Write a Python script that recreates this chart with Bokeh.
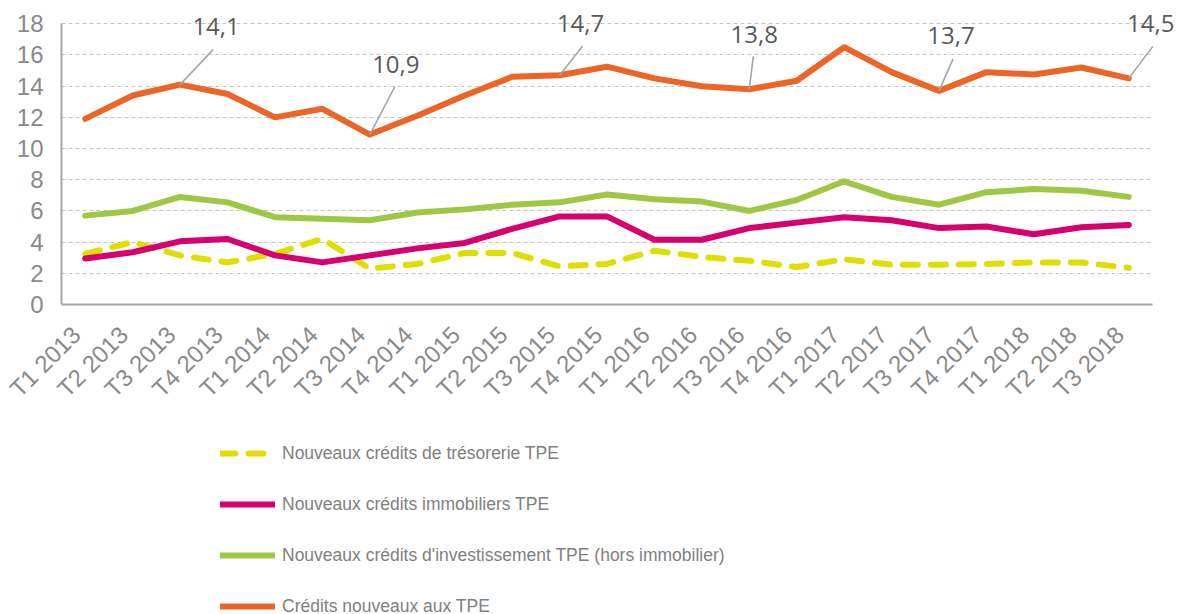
from bokeh.plotting import figure
from bokeh.models import ColumnDataSource, Range1d, Legend, LegendItem, FixedTicker, Grid
from bokeh.embed import file_html
from bokeh.resources import INLINE
from bokeh.core.properties import value
import math

# ---------------- data ----------------
quarters = ["T1 2013", "T2 2013", "T3 2013", "T4 2013",
            "T1 2014", "T2 2014", "T3 2014", "T4 2014",
            "T1 2015", "T2 2015", "T3 2015", "T4 2015",
            "T1 2016", "T2 2016", "T3 2016", "T4 2016",
            "T1 2017", "T2 2017", "T3 2017", "T4 2017",
            "T1 2018", "T2 2018", "T3 2018"]

tresorerie = [3.25, 4.0, 3.15, 2.7, 3.25, 4.2, 2.3, 2.6, 3.3, 3.3, 2.45, 2.6,
              3.45, 3.05, 2.8, 2.4, 2.9, 2.55, 2.55, 2.6, 2.7, 2.7, 2.35]
immobiliers = [2.95, 3.35, 4.05, 4.2, 3.15, 2.7, 3.15, 3.6, 3.95, 4.85, 5.65, 5.65,
               4.15, 4.15, 4.9, 5.25, 5.6, 5.4, 4.9, 5.0, 4.5, 4.95, 5.1]
investissement = [5.7, 6.0, 6.9, 6.55, 5.6, 5.5, 5.4, 5.9, 6.1, 6.4, 6.55, 7.05,
                  6.75, 6.6, 6.0, 6.7, 7.9, 6.9, 6.4, 7.2, 7.4, 7.3, 6.9]
credits_tpe = [11.9, 13.4, 14.1, 13.5, 12.0, 12.55, 10.9, 12.1, 13.4, 14.6, 14.7, 15.25,
               14.5, 14.0, 13.8, 14.35, 16.5, 14.9, 13.7, 14.9, 14.75, 15.2, 14.5]

series_labels = ["Nouveaux crédits de trésorerie TPE",
                 "Nouveaux crédits immobiliers TPE",
                 "Nouveaux crédits d'investissement TPE (hors immobilier)",
                 "Crédits nouveaux aux TPE"]

y_ticks = [0, 2, 4, 6, 8, 10, 12, 14, 16, 18]
labelled_idx = [2, 6, 10, 14, 18, 22]

# ---------------- layout / style ----------------
W, H = 1184, 614                          # frame covers the whole canvas
Y_MAX = 18
N = len(quarters)
AX_LEFT, AX_RIGHT, AX_TOP, AX_BOTTOM = 61, 1152, 23.3, 304   # visible axes box (px)
PX_X = (AX_RIGHT - AX_LEFT) / N
PX_Y = (AX_BOTTOM - AX_TOP) / Y_MAX
X_START = -AX_LEFT / PX_X
X_END = (W - AX_LEFT) / PX_X
Y_END = AX_BOTTOM / PX_Y
Y_START = -(H - AX_BOTTOM) / PX_Y
XLABEL_SHIFT_PX = -9                      # rotated category labels sit slightly left of centre

# leader (dx, dy) and label offsets (dx, dy) in screen px, relative to the point
leader_px = [(33, 35), (25, 48), (23, 29), (4, 33), (14, 32), (24, 32)]
label_px = [(36, 58), (26, 70), (21, 52), (5, 55), (12, 55), (22, 55)]

C_YEL = "#DEDE00"
C_MAG = "#D6006E"
C_GRN = "#9EC744"
C_ORA = "#EC6527"

p = figure(width=W, height=H, x_range=Range1d(X_START, X_END),
           y_range=Range1d(Y_START, Y_END),
           output_backend="svg", toolbar_location=None,
           min_border_left=0, min_border_right=0, min_border_top=0,
           min_border_bottom=0)
p.outline_line_color = None
p.background_fill_color = "white"

xs = [i + 0.5 for i in range(N)]
src = ColumnDataSource(dict(x=xs, tres=tresorerie, immo=immobiliers,
                            inv=investissement, tot=credits_tpe))

r_y = p.line("x", "tres", source=src, line_color=C_YEL, line_width=6,
             line_dash="15 13", line_cap="round", line_join="round")
r_m = p.line("x", "immo", source=src, line_color=C_MAG, line_width=6,
             line_cap="round", line_join="round")
r_g = p.line("x", "inv", source=src, line_color=C_GRN, line_width=6,
             line_cap="round", line_join="round")
r_o = p.line("x", "tot", source=src, line_color=C_ORA, line_width=6,
             line_cap="round", line_join="round")

# annotations for selected points
ax0 = [xs[i] for i in labelled_idx]
ay0 = [credits_tpe[i] for i in labelled_idx]
ax1 = [x + d[0] / PX_X for x, d in zip(ax0, leader_px)]
ay1 = [y + d[1] / PX_Y for y, d in zip(ay0, leader_px)]
atxt = [("%.1f" % v).replace(".", ",") for v in ay0]
ann = ColumnDataSource(dict(x0=ax0, y0=ay0, x1=ax1, y1=ay1, t=atxt,
                            xo=[d[0] for d in label_px],
                            yo=[-d[1] for d in label_px]))
p.segment("x0", "y0", "x1", "y1", source=ann, line_color="#A6A6A6", line_width=1.6)
p.text("x0", "y0", text="t", source=ann, x_offset="xo", y_offset="yo",
       text_font=value("Open Sans"), text_font_size="24px", text_color="#595959",
       text_align="center", text_baseline="middle")

# axes (drawn at data 0 inside the full-canvas frame)
tick_x = [x + XLABEL_SHIFT_PX / PX_X for x in xs]
p.yaxis.ticker = FixedTicker(ticks=y_ticks)
p.xaxis.ticker = FixedTicker(ticks=tick_x)
p.xaxis.major_label_overrides = {t: q for t, q in zip(tick_x, quarters)}
p.xaxis.fixed_location = 0
p.yaxis.fixed_location = 0
p.yaxis.bounds = (0, Y_MAX)
p.xaxis.bounds = (0, N)
for ax in (p.xaxis, p.yaxis):
    ax.axis_line_color = "#A6A6A6"
    ax.axis_line_width = 2
    ax.major_tick_line_color = None
    ax.minor_tick_line_color = None
    ax.major_tick_out = 0
    ax.major_tick_in = 0
    ax.major_label_text_font = "Liberation Sans"
    ax.major_label_text_font_size = "24px"
    ax.major_label_text_color = "#8A8A8A"
p.yaxis.major_label_standoff = 18
p.xaxis.major_label_standoff = 26
p.xaxis.major_label_orientation = math.pi / 4

p.xgrid.grid_line_color = None
p.ygrid.grid_line_color = None
grid = Grid(dimension=1, ticker=FixedTicker(ticks=y_ticks), bounds=(0, Y_MAX),
            grid_line_color="#C4C4C4", grid_line_dash="4 3", grid_line_width=1)
if "cross_bounds" in Grid.properties():
    grid.cross_bounds = (0, N)
    p.add_layout(grid)
else:
    p.segment(x0=0, x1=N, y0=y_ticks[1:], y1=y_ticks[1:], line_color="#C4C4C4",
              line_dash="4 3", line_width=1, level="underlay")

legend = Legend(items=[LegendItem(label=series_labels[0], renderers=[r_y]),
                       LegendItem(label=series_labels[1], renderers=[r_m]),
                       LegendItem(label=series_labels[2], renderers=[r_g]),
                       LegendItem(label=series_labels[3], renderers=[r_o])],
                location=(220, -3), orientation="vertical",
                glyph_width=55, glyph_height=22, label_standoff=7,
                label_height=22, spacing=29, padding=0, margin=0,
                border_line_alpha=0, background_fill_alpha=0,
                label_text_font="Liberation Sans",
                label_text_font_size="17.5px", label_text_color="#808080")
p.add_layout(legend)

open("out.html", "w").write(file_html(p, INLINE))
